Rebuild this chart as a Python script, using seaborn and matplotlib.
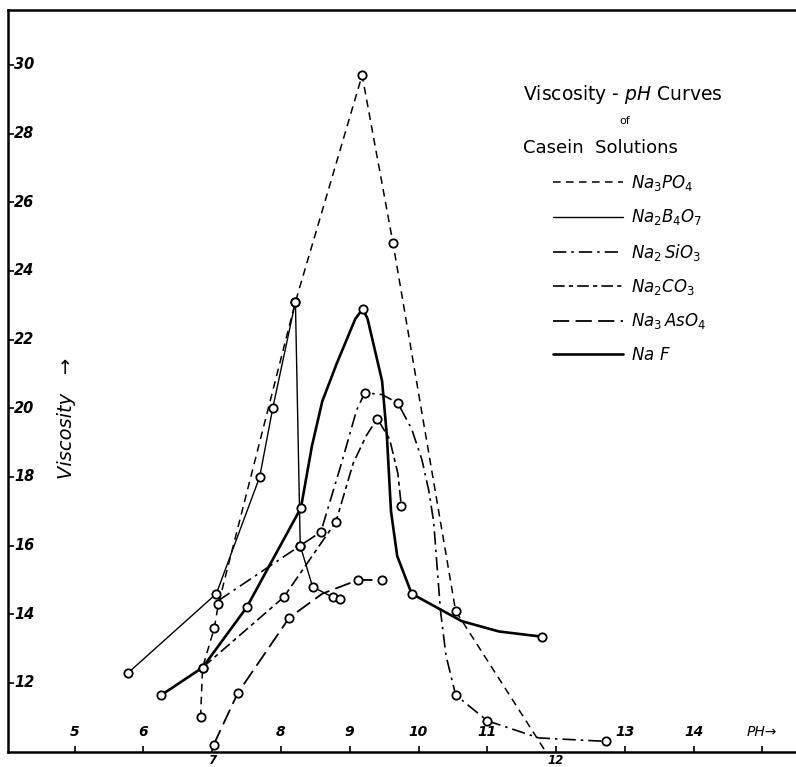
import pandas as pd
import matplotlib
matplotlib.use("Agg")
import matplotlib.pyplot as plt
import seaborn as sns

# points along each curve (pH, viscosity); circ = 1 where the chart draws an open circle
na3po4_ph = [6.83, 6.86, 7.03, 7.09, 8.21, 9.18, 9.63, 10.54, 11.85]
na3po4_visc = [11.0, 12.45, 13.6, 14.3, 23.1, 29.7, 24.8, 14.1, 10.0]
na3po4_circ = [1, 0, 1, 1, 1, 1, 1, 1, 0]

na2b4o7_ph = [5.78, 7.06, 7.69, 7.88, 8.21, 8.28, 8.46, 8.75, 8.86]
na2b4o7_visc = [12.3, 14.6, 18.0, 20.0, 23.1, 16.0, 14.8, 14.5, 14.45]
na2b4o7_circ = [1, 1, 1, 1, 1, 1, 1, 1, 1]

na2sio3_ph = [7.09, 8.28, 8.58, 8.88, 9.10, 9.22, 9.47, 9.70, 9.90, 10.05, 10.15,
              10.22, 10.27, 10.32, 10.40, 10.54, 11.0, 11.75, 12.72]
na2sio3_visc = [14.4, 16.0, 16.4, 18.4, 19.95, 20.45, 20.4, 20.15, 19.4, 18.5, 17.6,
                16.7, 15.4, 14.1, 12.8, 11.65, 10.9, 10.4, 10.3]
na2sio3_circ = [0, 1, 1, 0, 0, 1, 0, 1, 0, 0, 0, 0, 0, 0, 0, 1, 1, 0, 1]

na2co3_ph = [6.86, 8.04, 8.80, 9.05, 9.24, 9.40, 9.58, 9.70, 9.75]
na2co3_visc = [12.45, 14.5, 16.7, 18.4, 19.2, 19.7, 19.1, 18.1, 17.15]
na2co3_circ = [1, 1, 1, 0, 0, 1, 0, 0, 1]

na3aso4_ph = [7.02, 7.37, 8.12, 8.60, 9.12, 9.47]
na3aso4_visc = [10.2, 11.7, 13.9, 14.6, 15.0, 15.0]
na3aso4_circ = [1, 1, 1, 0, 1, 1]

naf_ph = [6.26, 6.86, 7.50, 8.29, 8.45, 8.60, 8.81, 9.08, 9.19, 9.26, 9.33, 9.47, 9.54,
          9.60, 9.69, 9.90, 10.63, 11.17, 11.79]
naf_visc = [11.65, 12.45, 14.2, 17.1, 18.9, 20.2, 21.3, 22.6, 22.9, 22.6, 22.0, 20.8, 19.2,
            17.0, 15.7, 14.6, 13.8, 13.5, 13.35]
naf_circ = [1, 1, 1, 1, 0, 0, 0, 0, 1, 0, 0, 0, 0, 0, 0, 1, 0, 0, 1]

salts = [r'$\mathit{Na_3PO_4}$', r'$\mathit{Na_2B_4O_7}$', r'$\mathit{Na_2\,SiO_3}$',
         r'$\mathit{Na_2CO_3}$', r'$\mathit{Na_3\,AsO_4}$', r'$\mathit{Na\ F}$']
x_ticks = [5, 6, 7, 8, 9, 10, 11, 12, 13, 14]
y_ticks = [12, 14, 16, 18, 20, 22, 24, 26, 28, 30]

curves = [(na3po4_ph, na3po4_visc, na3po4_circ), (na2b4o7_ph, na2b4o7_visc, na2b4o7_circ),
          (na2sio3_ph, na2sio3_visc, na2sio3_circ), (na2co3_ph, na2co3_visc, na2co3_circ),
          (na3aso4_ph, na3aso4_visc, na3aso4_circ), (naf_ph, naf_visc, naf_circ)]
frames = []
for name, (ph, visc, circ) in zip(salts, curves):
    frames.append(pd.DataFrame({'salt': name, 'pH': ph, 'visc': visc, 'circ': circ}))
df = pd.concat(frames, ignore_index=True)

dash_map = dict(zip(salts, [(5, 3.5), '', (8, 3, 1.5, 3), (7, 2.5, 2.5, 2.5), (9, 3.5), '']))
width_map = dict(zip(salts, [1.1, 1.0, 1.2, 1.2, 1.3, 1.9]))

sns.set_style('white')
plt.rcParams['font.family'] = ['DejaVu Sans']
plt.rcParams['mathtext.fontset'] = 'dejavusans'
plt.rcParams['text.color'] = 'black'

fig = plt.figure(figsize=(7.96, 7.67), dpi=100)
ax = fig.add_axes([8 / 796, 15 / 767, 1 - 8 / 796, 742 / 767])

sns.lineplot(data=df, x='pH', y='visc', hue='salt', style='salt', size='salt',
             hue_order=salts, style_order=salts, size_order=salts,
             palette={s: 'black' for s in salts}, dashes=dash_map, sizes=width_map,
             sort=False, estimator=None, ax=ax)
sns.scatterplot(data=df[df['circ'] == 1], x='pH', y='visc', color='white',
                edgecolor='black', linewidth=1.3, s=36, zorder=5, legend=False, ax=ax)

ax.set_xlim(4.03, 15.49)
ax.set_ylim(9.99, 31.6)
ax.set_xlabel('')
ax.set_ylabel('')
ax.set_xticks(x_ticks + [15])
ax.set_xticklabels([])
ax.set_yticks(y_ticks)
ax.set_yticklabels([])
ax.tick_params(axis='both', direction='in', length=4, width=1.2, bottom=True, left=True,
               color='black')

for side in ['left', 'top', 'bottom']:
    ax.spines[side].set_linewidth(1.8)
    ax.spines[side].set_color('black')
ax.spines['right'].set_visible(False)

# hand-lettered tick labels sit inside the frame (7 and 12 below the axis)
xt = ax.get_xaxis_transform()
for t in x_ticks:
    if t in (7, 12):
        ax.text(t, -0.003, str(t), transform=xt, ha='center', va='top', fontsize=8.5,
                fontstyle='italic', fontweight='bold', clip_on=False)
    else:
        ax.text(t, 0.018, str(t), transform=xt, ha='center', va='bottom', fontsize=10,
                fontstyle='italic', fontweight='bold')
ax.text(15, 0.018, 'PH→', transform=xt, ha='center', va='bottom', fontsize=10,
        fontstyle='italic')

yt = ax.get_yaxis_transform()
for t in y_ticks:
    ax.text(0.008, t, str(t), transform=yt, ha='left', va='center', fontsize=10.5,
            fontstyle='italic', fontweight='bold')

ax.text(59 / 788, 0.45, 'Viscosity   →', transform=ax.transAxes, rotation=90,
        ha='center', va='center', fontsize=14, fontstyle='italic')

fig.text(523 / 796, 1 - 95 / 767, r'Viscosity - $\it{pH}$ Curves', ha='left', va='center',
         fontsize=13.5)
fig.text(625 / 796, 1 - 121 / 767, 'of', ha='center', va='center', fontsize=8)
fig.text(523 / 796, 1 - 148 / 767, 'Casein  Solutions', ha='left', va='center', fontsize=13)

sns.move_legend(ax, 'upper left', bbox_to_anchor=(545 / 788, (752 - 173) / 742),
                title=None, frameon=False, handlelength=4.2, handletextpad=0.5,
                labelspacing=0.86, borderpad=0, borderaxespad=0, fontsize=12)

fig.savefig('out.png', dpi=100)
